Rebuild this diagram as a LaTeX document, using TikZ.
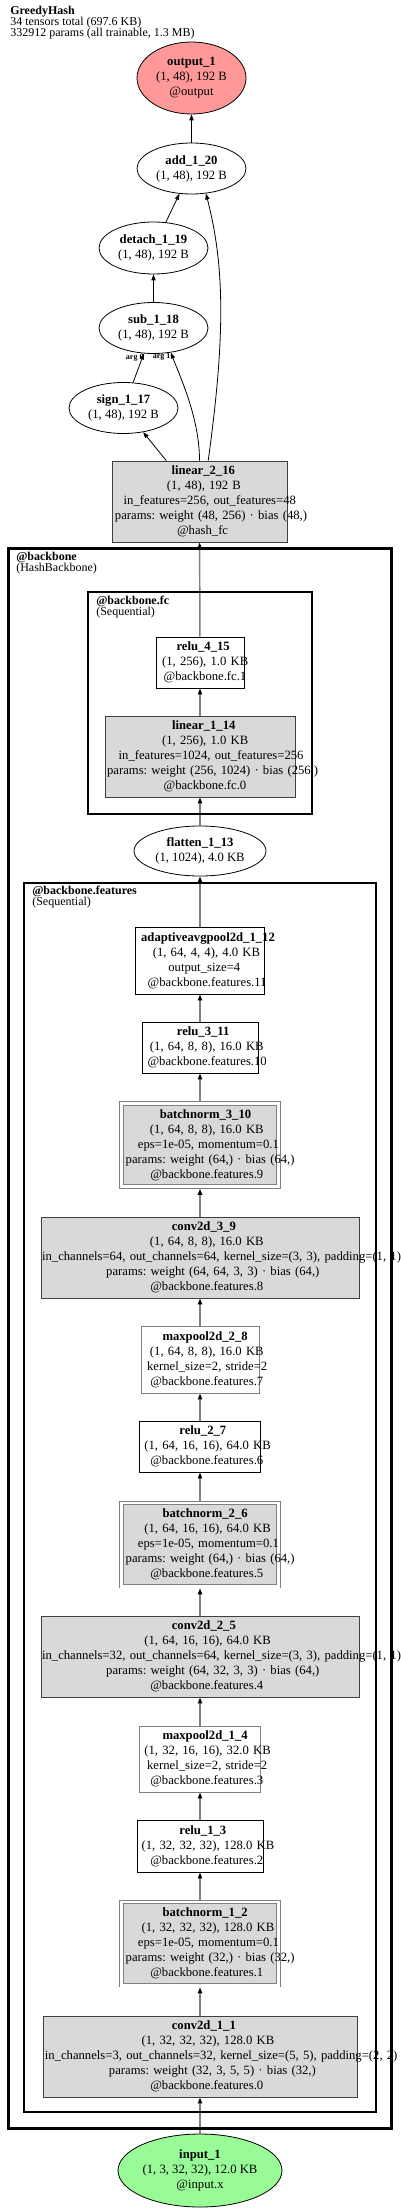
\documentclass[tikz,border=0pt]{standalone}
\usepackage{fontspec}
\setmainfont{Liberation Serif}
\usepackage{tikz}
\usetikzlibrary{arrows.meta,shapes.geometric}
\definecolor{outred}{HTML}{FF9999}
\definecolor{ingreen}{HTML}{98FB98}
\definecolor{modgray}{HTML}{D9D9D9}
\definecolor{edgegray}{HTML}{808080}
\frenchspacing
\newcommand{\nodefont}{\fontsize{9.5}{11.25}\selectfont}
\newcommand{\labelfont}{\fontsize{9}{8.3}\selectfont}
\newsavebox{\linebox}
\newcommand{\tline}[1]{\sbox{\linebox}{#1}\makebox[\linewidth]{\hspace*{.12\wd\linebox}\usebox{\linebox}}}
\tikzset{
  >={Triangle[length=4.5pt,width=3.2pt]},
  tensor/.style={ellipse,draw=black,line width=.6pt,inner sep=0pt,align=center,font=\nodefont},
  mod/.style={rectangle,draw=black,line width=.6pt,inner sep=0pt,align=center,font=\nodefont},
  param/.style={mod,fill=modgray,draw=black!75},
  bnorm/.style={param,draw=edgegray,double=white,double distance=2.2pt,outer sep=1.7pt,
    text width=118pt,minimum height=62.3pt},
  pool/.style={mod,draw=edgegray},
  cluster/.style={draw=black},
  clabel/.style={anchor=north west,inner sep=0pt,align=left,font=\labelfont},
  flow/.style={->,line width=.6pt},
  modflow/.style={-{Triangle[length=4.5pt,width=3.2pt,color=black]},line width=1.1pt,color=edgegray},
  argl/.style={font=\fontsize{6}{6}\selectfont\bfseries,inner sep=0pt},
}

\begin{document}
\begin{tikzpicture}[x=0.75pt,y=-0.75pt]
  \useasboundingbox (0,0) rectangle (400,2211);
  \node[clabel] (title) at (10,6) {\textbf{GreedyHash}\\34 tensors total (697.6 KB)\\332912 params (all trainable, 1.3 MB)};

  % head
  \node[tensor,fill=outred,minimum width=81.75pt,minimum height=54pt] (output1) at (191.5,78)
    {\textbf{output\_1}\\(1, 48), 192 B\\@output};
  \node[tensor,minimum width=81.75pt,minimum height=38.25pt] (add20) at (191.5,168.5)
    {\textbf{add\_1\_20}\\(1, 48), 192 B};
  \node[tensor,minimum width=81.75pt,minimum height=39pt] (detach19) at (153.5,248)
    {\textbf{detach\_1\_19}\\(1, 48), 192 B};
  \node[tensor,minimum width=81.75pt,minimum height=38.25pt] (sub18) at (153.5,328)
    {\textbf{sub\_1\_18}\\(1, 48), 192 B};
  \node[tensor,minimum width=81.75pt,minimum height=38.25pt] (sign17) at (123.5,408)
    {\textbf{sign\_1\_17}\\(1, 48), 192 B};
  \node[param,text width=131.25pt,minimum height=60.75pt] (linear16) at (199.5,501.5)
    {\tline{\textbf{linear\_2\_16}}\\\tline{(1, 48), 192 B}\\\tline{in\_features=256, out\_features=48}\\\tline{params: weight (48, 256) · bias (48,)}\\\tline{@hash\_fc}};

  % backbone.fc
  \node[mod,text width=66pt,minimum height=38.25pt] (relu15) at (200,662.5)
    {\tline{\textbf{relu\_4\_15}}\\\tline{(1, 256), 1.0 KB}\\\tline{@backbone.fc.1}};
  \node[param,text width=142.5pt,minimum height=60.75pt] (linear14) at (200,756.5)
    {\tline{\textbf{linear\_1\_14}}\\\tline{(1, 256), 1.0 KB}\\\tline{in\_features=1024, out\_features=256}\\\tline{params: weight (256, 1024) · bias (256,)}\\\tline{@backbone.fc.0}};
  \node[tensor,minimum width=99pt,minimum height=37.5pt] (flatten13) at (200,851)
    {\textbf{flatten\_1\_13}\\(1, 1024), 4.0 KB};

  % backbone.features
  \node[mod,text width=96.75pt,minimum height=50.25pt] (pool12) at (200,960.5)
    {\tline{\textbf{adaptiveavgpool2d\_1\_12}}\\\tline{(1, 64, 4, 4), 4.0 KB}\\\tline{output\_size=4}\\\tline{@backbone.features.11}};
  \node[mod,text width=87pt,minimum height=38.25pt] (relu11) at (200,1047.5)
    {\tline{\textbf{relu\_3\_11}}\\\tline{(1, 64, 8, 8), 16.0 KB}\\\tline{@backbone.features.10}};
  \node[bnorm] (bn10) at (200,1145)
    {\tline{\textbf{batchnorm\_3\_10}}\\\tline{(1, 64, 8, 8), 16.0 KB}\\\tline{eps=1e-05, momentum=0.1}\\\tline{params: weight (64,) · bias (64,)}\\\tline{@backbone.features.9}};
  \node[param,text width=238.5pt,minimum height=60.75pt] (conv9) at (200,1257.5)
    {\tline{\textbf{conv2d\_3\_9}}\\\tline{(1, 64, 8, 8), 16.0 KB}\\\tline{in\_channels=64, out\_channels=64, kernel\_size=(3, 3), padding=(1, 1)}\\\tline{params: weight (64, 64, 3, 3) · bias (64,)}\\\tline{@backbone.features.8}};
  \node[pool,text width=88.5pt,minimum height=50.25pt] (maxpool8) at (200,1359.5)
    {\tline{\textbf{maxpool2d\_2\_8}}\\\tline{(1, 64, 8, 8), 16.0 KB}\\\tline{kernel\_size=2, stride=2}\\\tline{@backbone.features.7}};
  \node[mod,text width=90.75pt,minimum height=38.25pt] (relu7) at (200,1446.5)
    {\tline{\textbf{relu\_2\_7}}\\\tline{(1, 64, 16, 16), 64.0 KB}\\\tline{@backbone.features.6}};
  \node[bnorm] (bn6) at (200,1544.5)
    {\tline{\textbf{batchnorm\_2\_6}}\\\tline{(1, 64, 16, 16), 64.0 KB}\\\tline{eps=1e-05, momentum=0.1}\\\tline{params: weight (64,) · bias (64,)}\\\tline{@backbone.features.5}};
  \node[param,text width=238.5pt,minimum height=60.75pt] (conv5) at (200,1656.5)
    {\tline{\textbf{conv2d\_2\_5}}\\\tline{(1, 64, 16, 16), 64.0 KB}\\\tline{in\_channels=32, out\_channels=64, kernel\_size=(3, 3), padding=(1, 1)}\\\tline{params: weight (64, 32, 3, 3) · bias (64,)}\\\tline{@backbone.features.4}};
  \node[pool,text width=90.75pt,minimum height=49.5pt] (maxpool4) at (200,1759)
    {\tline{\textbf{maxpool2d\_1\_4}}\\\tline{(1, 32, 16, 16), 32.0 KB}\\\tline{kernel\_size=2, stride=2}\\\tline{@backbone.features.3}};
  \node[mod,text width=94.5pt,minimum height=39pt] (relu3) at (200,1846)
    {\tline{\textbf{relu\_1\_3}}\\\tline{(1, 32, 32, 32), 128.0 KB}\\\tline{@backbone.features.2}};
  \node[bnorm] (bn2) at (200,1943.5)
    {\tline{\textbf{batchnorm\_1\_2}}\\\tline{(1, 32, 32, 32), 128.0 KB}\\\tline{eps=1e-05, momentum=0.1}\\\tline{params: weight (32,) · bias (32,)}\\\tline{@backbone.features.1}};
  \node[param,text width=235.5pt,minimum height=60.75pt] (conv1) at (200,2056.5)
    {\tline{\textbf{conv2d\_1\_1}}\\\tline{(1, 32, 32, 32), 128.0 KB}\\\tline{in\_channels=3, out\_channels=32, kernel\_size=(5, 5), padding=(2, 2)}\\\tline{params: weight (32, 3, 5, 5) · bias (32,)}\\\tline{@backbone.features.0}};
  \node[tensor,fill=ingreen,minimum width=123pt,minimum height=54.75pt] (input1) at (200,2170.5)
    {\textbf{input\_1}\\(1, 3, 32, 32), 12.0 KB\\@input.x};

  % module edges
  \foreach \a/\b in {input1/conv1,conv1/bn2,bn2/relu3,relu3/maxpool4,maxpool4/conv5,conv5/bn6,
      bn6/relu7,relu7/maxpool8,maxpool8/conv9,conv9/bn10,bn10/relu11,relu11/pool12,
      pool12/flatten13,flatten13/linear14,linear14/relu15,relu15/linear16}
    \draw[modflow] (\a) -- (\b);

  % tensor edges
  \draw[flow] (linear16) -- (sign17);
  \draw[flow] (sign17) -- (sub18) node[argl,at end,anchor=north east] {arg 0};
  \draw[flow] (linear16.north) .. controls +(0,-40) and +(12,30) .. (sub18.-55)
    node[argl,at end,anchor=north east] {arg 1};
  \draw[flow] (sub18) -- (detach19);
  \draw[flow] (detach19) -- (add20);
  \draw[flow] (linear16.78) .. controls +(18,-130) and +(18,70) .. (add20.-60);
  \draw[flow] (add20) -- (output1);

  % clusters
  \draw[cluster,line width=2.25pt] (8,548) rectangle (391,2128);
  \node[clabel] (backboneLbl) at (16,552) {\textbf{@backbone}\\(HashBackbone)};
  \draw[cluster,line width=1.75pt] (88,592) rectangle (312,814);
  \node[clabel] (fcLbl) at (96,596) {\textbf{@backbone.fc}\\(Sequential)};
  \draw[cluster,line width=1.5pt] (24,883) rectangle (376,2112);
  \node[clabel] (featuresLbl) at (32,886) {\textbf{@backbone.features}\\(Sequential)};
\end{tikzpicture}
\end{document}
